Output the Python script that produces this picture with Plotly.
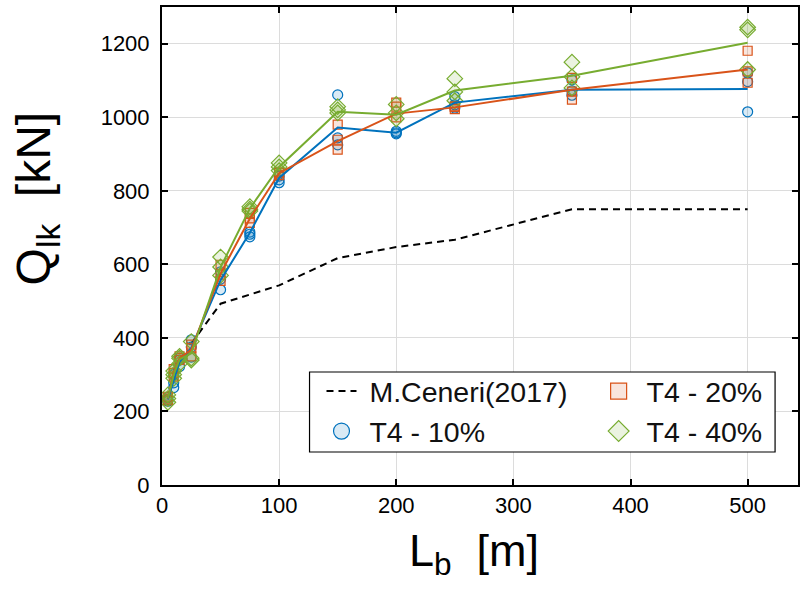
import plotly.graph_objects as go

# ---------------- data ----------------
lb = [5, 10, 15, 25, 50, 75, 100, 150, 200, 250, 350, 500]

# mean curves
t10_mean = [233, 281, 335, 373, 557, 686, 835, 972, 958, 1040, 1075, 1077]
t20_mean = [235, 305, 345, 368, 575, 725, 848, 935, 1010, 1027, 1075, 1130]
t40_mean = [235, 300, 342, 358, 592, 752, 865, 1015, 1007, 1073, 1113, 1203]

# individual samples (3 per Lb)
t10_samples = [[228, 232, 238], [265, 278, 300], [322, 340, 345], [348, 375, 395],
               [531, 560, 580], [675, 682, 688], [822, 830, 840], [925, 944, 1061],
               [955, 958, 962], [1025, 1034, 1056], [1060, 1072, 1102], [1015, 1097, 1121]]
t20_samples = [[230, 235, 240], [295, 305, 315], [340, 345, 350], [350, 372, 382],
               [555, 572, 599], [713, 725, 740], [843, 848, 852], [912, 939, 980],
               [1000, 1029, 1040], [1022, 1028, 1030], [1048, 1070, 1107], [1094, 1125, 1181]]
t40_samples = [[225, 235, 245], [290, 300, 310], [330, 345, 350], [340, 345, 390],
               [570, 593, 620], [745, 750, 757], [855, 865, 876], [1012, 1020, 1029],
               [996, 1012, 1035], [1045, 1069, 1105], [1080, 1110, 1150], [1130, 1238, 1245]]

ceneri_x = [25, 50, 100, 150, 200, 250, 350, 500]
ceneri_y = [385, 493, 543, 617, 647, 667, 750, 750]

x_ticks = [0, 100, 200, 300, 400, 500]
y_ticks = [0, 200, 400, 600, 800, 1000, 1200]

# ---------------- style ----------------
BLUE = "#0072BD"
ORANGE = "#D95319"
GREEN = "#77AC30"
FONT = "Liberation Sans, Arial, sans-serif"
NB = "\u00a0"

# plot-area pixel geometry (for placing legend box)
L, R, T, B = 162, 800, 7, 485
PW, PH = R - L, B - T


def px_x(p):
    return (p - L) / PW


def px_y(p):
    return (B - p) / PH


def flat(samples):
    xs, ys = [], []
    for x, group in zip(lb, samples):
        for v in group:
            xs.append(x)
            ys.append(v)
    return xs, ys


def rgba(hexc, a):
    h = hexc.lstrip("#")
    return "rgba(%d,%d,%d,%.2f)" % (int(h[0:2], 16), int(h[2:4], 16), int(h[4:6], 16), a)


fig = go.Figure()

# Ceneri dashed line
fig.add_trace(go.Scatter(x=ceneri_x, y=ceneri_y, mode="lines",
                         line=dict(color="black", width=2, dash="7px,5px"),
                         name=NB + "M.Ceneri(2017)", showlegend=True, legend="legend"))

series = [
    ("T4 - 10%", t10_samples, t10_mean, BLUE, "circle", 10, "legend"),
    ("T4 - 20%", t20_samples, t20_mean, ORANGE, "square", 9, "legend2"),
    ("T4 - 40%", t40_samples, t40_mean, GREEN, "diamond", 12, "legend2"),
]

for name, samp, mean, col, sym, sz, lg in series:
    xs, ys = flat(samp)
    fig.add_trace(go.Scatter(x=xs, y=ys, mode="markers",
                             marker=dict(symbol=sym, size=sz, color=rgba(col, 0.15),
                                         line=dict(color=col, width=1.2)),
                             showlegend=False, hoverinfo="skip"))
for name, samp, mean, col, sym, sz, lg in series:
    fig.add_trace(go.Scatter(x=lb, y=mean, mode="lines",
                             line=dict(color=col, width=2),
                             showlegend=False))

# legend-only entries
for name, samp, mean, col, sym, sz, lg in series:
    fig.add_trace(go.Scatter(x=[None], y=[None], mode="markers", name=NB + name,
                             marker=dict(symbol=sym, size=16, color=rgba(col, 0.15),
                                         line=dict(color=col, width=1.2)),
                             showlegend=True, legend=lg))

legend_common = dict(
    orientation="v", yanchor="top", xanchor="left",
    bgcolor="rgba(0,0,0,0)", borderwidth=0,
    font=dict(family=FONT, size=28.5, color="#111"),
    itemsizing="trace", traceorder="normal", tracegroupgap=0,
)

fig.update_layout(
    width=802, height=592,
    margin=dict(l=L, r=802 - R, t=T, b=592 - B),
    paper_bgcolor="white", plot_bgcolor="white",
    font=dict(family=FONT, color="black", size=22),
    showlegend=True,
    legend=dict(x=px_x(322), y=px_y(366), **legend_common),
    legend2=dict(x=px_x(600), y=px_y(366), **legend_common),
    shapes=[
        dict(type="rect", xref="paper", yref="paper", layer="above",
             x0=px_x(310), x1=px_x(777), y0=px_y(452), y1=px_y(372),
             fillcolor="white", line=dict(color="black", width=1.2)),
    ],
    annotations=[
        dict(text="Q<sub>lk</sub>  [kN]", textangle=-90, xref="paper", yref="paper",
             x=px_x(37), y=px_y(198), xanchor="center", yanchor="middle",
             showarrow=False, font=dict(size=48, family=FONT, color="black")),
        dict(text="L<sub>b</sub>  [m]", xref="paper", yref="paper",
             x=px_x(475), y=px_y(553), xanchor="center", yanchor="middle",
             showarrow=False, font=dict(size=45, family=FONT, color="black")),
    ],
)

fig.update_xaxes(
    range=[0, 543], tickvals=x_ticks, ticktext=[str(v) for v in x_ticks],
    showgrid=True, gridcolor="#dcdcdc", gridwidth=1,
    showline=True, linecolor="black", linewidth=2, mirror="ticks",
    ticks="inside", ticklen=6, tickcolor="black", tickwidth=1.5,
    zeroline=False,
    tickfont=dict(size=22, family=FONT),
)
fig.update_yaxes(
    range=[0, 1300], tickvals=y_ticks, ticktext=[str(v) for v in y_ticks],
    showgrid=True, gridcolor="#dcdcdc", gridwidth=1,
    showline=True, linecolor="black", linewidth=2, mirror="ticks",
    ticks="inside", ticklen=6, tickcolor="black", tickwidth=1.5,
    zeroline=False, ticklabelstandoff=6,
    tickfont=dict(size=22, family=FONT),
)

fig.write_html("out.html")
